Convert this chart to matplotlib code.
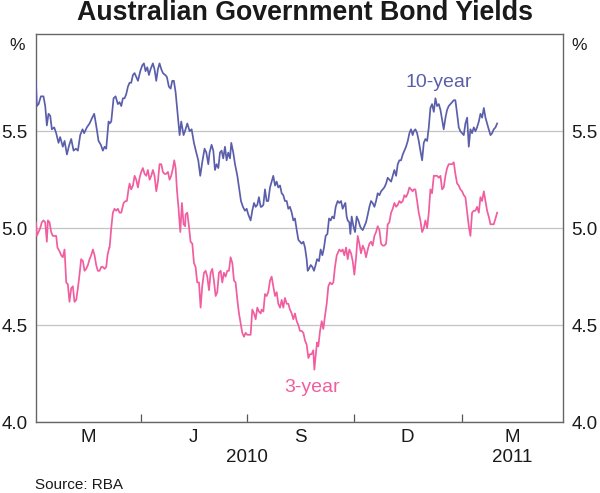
import datetime as dt
import matplotlib
matplotlib.use("Agg")
import matplotlib.pyplot as plt
import matplotlib.dates as mdates
import matplotlib.transforms as mtransforms
import numpy as np

# days since 1 Jan 2010, yields in per cent
ten_days = [
    0, 0.7, 2.2, 4.2, 6.4, 7.9, 9.3, 10.7, 12.2, 13.6, 15.6, 17.3, 19.3, 20.7, 23.0, 24.5,
    26.5, 28.5, 30.2, 32.2, 34.2, 35.9, 37.9, 39.9, 41.3, 43.6, 45.9, 48.2, 49.9, 51.6,
    53.6, 55.6, 57.3, 58.8, 60.2, 62.2,
    63.1, 64.5, 66.5, 68.2, 70.2, 71.6, 73.1, 74.5, 75.9, 77.3, 78.8, 80.2, 81.6, 83.1,
    84.5, 85.9, 87.4, 89.4, 91.1, 92.5, 93.9, 95.4, 96.8, 98.2, 100.2, 101.6, 103.1,
    104.5, 105.9, 107.4, 108.8, 110.8, 112.2, 113.9, 115.4, 116.8, 118.2, 119.7, 121.7,
    123.1, 124.5, 126.5,
    128.2, 129.7, 131.7, 133.4, 135.4, 137.4, 139.1, 140.8, 142.5, 144.5, 146.0, 147.7,
    148.8, 150.5, 152.0, 153.4, 154.8, 156.3, 157.7, 159.1, 160.5, 162.0, 163.4, 164.8,
    166.3, 167.4, 169.1, 170.6, 172.6, 174.0, 175.7, 177.4, 179.1, 180.6, 182.0, 184.0,
    185.4, 186.9, 188.3, 189.7, 191.1, 192.6,
    193.4, 194.9, 196.3, 197.7, 199.1, 200.6, 202.0, 203.4, 204.9, 206.3, 207.7, 209.2,
    210.6, 212.0, 213.4, 214.9, 216.3, 217.7, 219.2, 220.6, 222.0, 223.5, 224.9, 226.3,
    227.7, 229.2, 230.6, 232.0, 232.9, 234.0, 235.5, 236.9, 238.3, 239.7, 240.9, 242.6,
    244.0, 245.5, 246.9, 248.3, 249.8, 251.2, 252.6, 254.0, 255.5, 256.9,
    258.6, 260.0, 261.5, 262.9, 264.3, 265.2, 266.3, 267.2, 268.6, 269.5, 270.6, 272.1,
    273.5, 274.9, 276.3, 277.8, 278.6, 280.1, 281.5, 282.9, 284.4, 285.8, 287.2, 288.6,
    290.1, 291.5, 292.9, 294.4, 295.8, 297.2, 298.6, 300.1, 301.5, 302.9, 304.4, 305.8,
    307.2, 308.7, 310.1, 311.5, 312.9, 314.4, 315.8, 317.2, 318.7, 320.1, 321.5, 322.9,
    323.8, 325.2, 326.7, 328.1, 329.5, 331.0, 332.4, 333.8, 335.3, 336.7, 338.1, 339.5,
    341.0, 342.4, 343.8, 345.3, 346.7, 348.1, 349.5, 351.0, 352.4, 353.8, 355.3, 356.7,
    358.1, 359.5, 361.0, 362.4, 363.8, 365.3, 366.7, 368.1, 369.6, 371.0, 372.4, 373.8,
    375.3, 376.7, 378.1, 379.6, 381.0, 382.4, 383.9, 385.3, 386.7, 388.1, 389.6, 391.0,
    392.4, 393.9, 395.3,
]
ten_yield = [
    5.75, 5.63, 5.64, 5.68, 5.68, 5.63, 5.53, 5.59, 5.58, 5.51, 5.52, 5.49, 5.44, 5.47, 5.42, 5.45,
    5.38, 5.43, 5.46, 5.40, 5.41, 5.40, 5.48, 5.51, 5.49, 5.52, 5.54, 5.57, 5.59, 5.53,
    5.45, 5.43, 5.40, 5.42, 5.41, 5.55,
    5.54, 5.55, 5.67, 5.68, 5.64, 5.65, 5.63, 5.67, 5.67, 5.69, 5.73, 5.75, 5.75, 5.79,
    5.80, 5.78, 5.76, 5.81, 5.84, 5.85, 5.81, 5.83, 5.79, 5.82, 5.85, 5.82, 5.76,
    5.82, 5.85, 5.82, 5.80, 5.79, 5.78, 5.73, 5.72, 5.76, 5.76, 5.70, 5.57,
    5.48, 5.55, 5.48,
    5.51, 5.54, 5.50, 5.51, 5.44, 5.39, 5.35, 5.27, 5.34, 5.41, 5.39, 5.33,
    5.39, 5.43, 5.40, 5.30, 5.33, 5.31, 5.39, 5.40, 5.36, 5.42, 5.35, 5.39,
    5.36, 5.44, 5.39, 5.33, 5.27, 5.21, 5.14, 5.11, 5.09, 5.10, 5.07, 5.04,
    5.09, 5.13, 5.11, 5.12, 5.16, 5.11,
    5.11, 5.12, 5.20, 5.14, 5.14, 5.21, 5.24, 5.27, 5.22, 5.24, 5.21, 5.22,
    5.18, 5.17, 5.14, 5.14, 5.10, 5.11, 5.08, 5.04, 5.05, 4.99, 4.94, 4.93,
    4.92, 4.93, 4.90, 4.84, 4.78, 4.79, 4.81, 4.80, 4.78, 4.81, 4.84, 4.83,
    4.89, 4.86, 4.90, 4.96, 4.97, 5.05, 5.04, 5.06, 5.05, 5.11,
    5.14, 5.13, 5.14, 5.10, 5.12, 5.13, 5.06, 5.04, 5.03, 4.97, 5.06, 5.01,
    4.98, 5.06, 5.04, 5.01, 5.00, 4.99, 5.01, 5.03, 5.07, 5.11, 5.14, 5.13,
    5.11, 5.14, 5.18, 5.17, 5.19, 5.20, 5.21, 5.23, 5.26, 5.25, 5.24, 5.27,
    5.30, 5.27, 5.33, 5.35, 5.35, 5.38, 5.40, 5.42, 5.45, 5.49, 5.51, 5.48,
    5.50, 5.51, 5.49, 5.45, 5.40, 5.35, 5.44, 5.46, 5.45, 5.52, 5.62, 5.64,
    5.60, 5.67, 5.63, 5.64, 5.61, 5.56, 5.51, 5.57, 5.61, 5.63, 5.64, 5.65,
    5.66, 5.66, 5.59, 5.52, 5.50, 5.49, 5.48, 5.54, 5.57, 5.42, 5.51, 5.49,
    5.52, 5.50, 5.52, 5.55, 5.59, 5.57, 5.62, 5.57, 5.54, 5.51, 5.48, 5.49,
    5.51, 5.52, 5.54,
]

three_days = [
    0, 0.7, 2.2, 3.6, 5.0, 6.4, 7.9, 9.3, 10.2, 11.6, 13.0, 14.4, 15.9, 17.3, 18.4, 20.2,
    21.6, 23.0, 24.5, 25.9, 27.3, 28.7, 30.2, 31.6, 33.0, 34.5, 35.9, 37.3, 38.7, 40.2,
    41.6, 43.0, 44.5, 45.9, 47.3, 48.8, 50.2, 51.6, 53.0, 54.5, 55.9, 57.3, 58.8, 60.2,
    61.3, 62.8,
    63.1, 64.5, 65.9, 67.3, 68.8, 70.2, 71.6, 73.1, 73.9, 75.1, 76.8, 77.9, 79.3, 80.2,
    81.6, 83.1, 84.5, 85.9, 87.4, 88.8, 90.2, 91.6, 93.1, 94.5, 95.9, 97.4, 98.8, 100.2,
    101.6, 103.1, 104.5, 105.9, 107.4, 108.8, 110.2, 111.6, 113.1, 114.5, 115.9, 117.4,
    118.5, 119.7, 120.8, 122.2, 123.7, 125.1, 126.5, 127.9,
    128.2, 129.7, 131.1, 132.5, 134.0, 135.4, 136.8, 138.2, 139.7, 141.1, 142.5, 144.0,
    145.4, 146.8, 148.3, 149.7, 151.1, 152.5, 154.0, 155.4, 156.8, 158.3, 159.7, 161.1,
    162.5, 164.0, 165.4, 166.8, 168.3, 169.7, 171.1, 172.6, 174.0, 175.4, 176.8, 178.3,
    179.7, 181.1, 182.6, 184.0, 185.4, 186.9, 188.3, 189.7, 191.1, 192.6,
    193.4, 194.9, 196.3, 197.7, 199.1, 200.6, 202.0, 203.4, 204.9, 206.3, 207.7, 209.2,
    210.6, 212.0, 213.4, 214.9, 216.3, 217.7, 219.2, 220.6, 222.0, 223.5, 224.9, 226.3,
    227.7, 229.2, 230.6, 232.0, 233.5, 234.9, 236.3, 237.7, 238.6, 239.7, 240.9, 242.0,
    243.5, 244.9, 246.3, 247.8, 249.2, 250.6, 252.0, 253.5, 254.9, 256.3, 257.8,
    258.6, 260.0, 261.5, 262.9, 264.3, 265.8, 267.2, 268.6, 270.1, 271.5, 272.9, 274.4,
    275.8, 277.2, 278.6, 280.1, 281.5, 282.9, 284.4, 285.8, 287.2, 288.6, 290.1, 291.5,
    292.9, 294.4, 295.8, 297.2, 298.6, 300.1, 301.5, 302.9, 304.4, 305.8, 307.2, 308.7,
    310.1, 311.5, 312.9, 314.4, 315.8, 317.2, 318.7, 320.1, 321.5, 322.9,
    323.8, 325.2, 326.7, 328.1, 329.5, 331.0, 332.4, 333.8, 335.3, 336.7, 338.1, 339.5,
    341.0, 342.4, 343.8, 345.3, 346.7, 348.1, 349.5, 351.0, 352.4, 353.8, 355.3, 356.7,
    358.1, 359.5, 361.0, 362.4, 363.8, 365.3, 366.7, 368.1, 369.6, 371.0, 372.4, 373.8,
    375.3, 376.7, 378.1, 379.6, 381.0, 382.4, 383.9, 385.3, 386.7, 388.1, 389.6, 391.0,
    392.4, 393.9, 395.3,
]
three_yield = [
    5.03, 4.96, 4.98, 5.00, 5.03, 5.04, 5.03, 4.93, 5.04, 5.03, 4.98, 4.96, 4.96, 4.96, 4.90, 4.88,
    4.86, 4.85, 4.89, 4.72, 4.71, 4.62, 4.69, 4.70, 4.62, 4.63, 4.69, 4.76, 4.84, 4.83,
    4.78, 4.79, 4.81, 4.84, 4.86, 4.89, 4.86, 4.81, 4.78, 4.78, 4.80, 4.80, 4.79, 4.80,
    4.86, 4.90,
    4.90, 5.00, 5.08, 5.10, 5.09, 5.10, 5.08, 5.08, 5.10, 5.13, 5.14, 5.14, 5.20, 5.23,
    5.20, 5.22, 5.27, 5.25, 5.21, 5.26, 5.29, 5.31, 5.28, 5.27, 5.30, 5.25, 5.27, 5.30,
    5.27, 5.19, 5.24, 5.33, 5.33, 5.29, 5.28, 5.28, 5.29, 5.25, 5.27, 5.31,
    5.35, 5.31, 5.20, 5.10, 4.98, 5.13, 5.02, 5.01,
    5.07, 5.08, 5.01, 4.93, 4.92, 4.82, 4.80, 4.72, 4.72, 4.59, 4.70, 4.77,
    4.78, 4.75, 4.68, 4.77, 4.79, 4.73, 4.65, 4.67, 4.77, 4.78, 4.72, 4.77,
    4.75, 4.78, 4.78, 4.85, 4.82, 4.73, 4.72, 4.63, 4.56, 4.51, 4.46, 4.44,
    4.46, 4.45, 4.45, 4.45, 4.58, 4.56, 4.53, 4.59, 4.57, 4.56,
    4.58, 4.57, 4.66, 4.65, 4.67, 4.73, 4.75, 4.70, 4.65, 4.67, 4.61, 4.59,
    4.63, 4.59, 4.64, 4.61, 4.61, 4.58, 4.56, 4.53, 4.56, 4.52, 4.50, 4.47,
    4.47, 4.46, 4.42, 4.40, 4.33, 4.35, 4.35, 4.37, 4.27, 4.34, 4.41, 4.39,
    4.47, 4.52, 4.48, 4.55, 4.61, 4.70, 4.72, 4.71, 4.72, 4.80, 4.86,
    4.87, 4.89, 4.88, 4.89, 4.86, 4.90, 4.84, 4.89, 4.87, 4.83, 4.76, 4.85,
    4.96, 4.92, 4.87, 4.91, 4.89, 4.85, 4.89, 4.92, 4.93, 4.91, 4.96, 4.98,
    5.01, 4.99, 4.92, 4.91, 4.91, 4.92, 5.02, 5.03, 5.08, 5.10, 5.13, 5.11,
    5.12, 5.14, 5.13, 5.14, 5.17, 5.16, 5.18, 5.21, 5.20, 5.19,
    5.20, 5.20, 5.14, 5.08, 5.04, 4.98, 5.00, 5.04, 5.00, 5.08, 5.20, 5.18,
    5.27, 5.27, 5.27, 5.26, 5.27, 5.20, 5.21, 5.27, 5.31, 5.33, 5.33, 5.33,
    5.34, 5.28, 5.23, 5.22, 5.20, 5.19, 5.17, 5.16, 5.08, 5.01, 4.96, 5.08,
    5.09, 5.09, 5.11, 5.08, 5.16, 5.14, 5.19, 5.14, 5.09, 5.06, 5.02, 5.02,
    5.02, 5.05, 5.08,
]

y_ticks = [4.0, 4.5, 5.0, 5.5]
quarter_starts = [dt.date(2010, 4, 1), dt.date(2010, 7, 1), dt.date(2010, 10, 1), dt.date(2011, 1, 1)]
month_labels = ["M", "J", "S", "D", "M"]
month_pos = [dt.date(2010, 2, 15), dt.date(2010, 5, 16), dt.date(2010, 8, 16),
             dt.date(2010, 11, 15), dt.date(2011, 2, 13)]
year_labels = ["2010", "2011"]
year_pos = [dt.date(2010, 7, 1), dt.date(2011, 2, 13)]

BLUE = "#5b5eab"
PINK = "#f15d9e"
TXT = "#1a1a1a"

plt.rcParams["font.family"] = "Liberation Sans"

base = mdates.date2num(dt.datetime(2010, 1, 1))
x_ten = base + np.array(ten_days)
x_three = base + np.array(three_days)

fig = plt.figure(figsize=(6.0, 4.93), dpi=100)
ax = fig.add_axes([0.06, 0.144, 0.8788, 0.7864])

ax.plot(x_ten, ten_yield, color=BLUE, lw=1.25, zorder=3)
ax.plot(x_three, three_yield, color=PINK, lw=1.25, zorder=3)

ax.set_ylim(4.0, 6.0)
ax.set_xlim(base, base + 452)

ax.set_yticks(y_ticks)
ax.set_yticklabels([f"{v:.1f}" for v in y_ticks])
ax.tick_params(axis="y", length=0, labelsize=13.5, labelleft=True, labelright=True,
               pad=6, colors=TXT)
ax.yaxis.grid(True, color="#c4c4c4", lw=0.9)
ax.set_axisbelow(True)

ax.set_xticks([mdates.date2num(d) for d in quarter_starts])
ax.set_xticklabels([])
ax.tick_params(axis="x", which="major", direction="in", length=6, width=0.9, color="#555555")
ax.set_xticks([mdates.date2num(d) for d in month_pos], minor=True)
ax.set_xticklabels(month_labels, minor=True)
ax.tick_params(axis="x", which="minor", length=0, labelsize=13.5, pad=5, labelcolor=TXT)

for s in ax.spines.values():
    s.set_color("#666666")
    s.set_linewidth(1.0)

trans = mtransforms.blended_transform_factory(ax.transData, ax.transAxes)
for lab, d in zip(year_labels, year_pos):
    ax.text(mdates.date2num(d), -0.092, lab, transform=trans, ha="center", va="center",
            fontsize=13.5, color=TXT)

# series labels
ax.text(base + 345, 5.75, "10-year", color=BLUE, fontsize=14, ha="center", va="center")
ax.text(base + 237, 4.18, "3-year", color=PINK, fontsize=14, ha="center", va="center")

fig.text(305 / 600, 1 - 13.5 / 493, "Australian Government Bond Yields", ha="center",
         va="center", fontsize=19.3, fontweight="bold", color=TXT)
fig.text(17 / 600, 1 - 46 / 493, "%", ha="center", va="center", fontsize=12.5, color=TXT)
fig.text(579 / 600, 1 - 46 / 493, "%", ha="center", va="center", fontsize=12.5, color=TXT)
fig.text(35 / 600, 1 - 485 / 493, "Source: RBA", ha="left", va="center", fontsize=11,
         color=TXT)

fig.savefig("out.png", dpi=100)
